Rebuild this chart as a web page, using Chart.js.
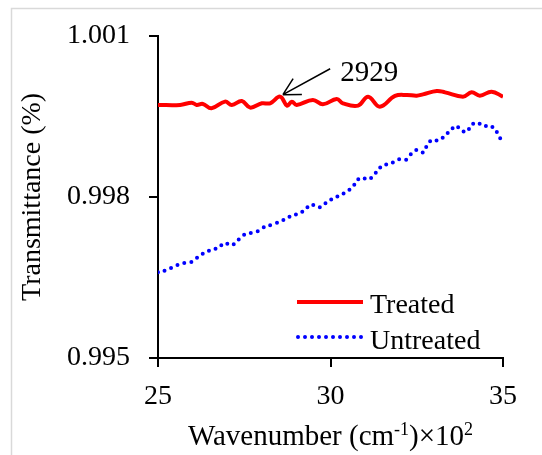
<!DOCTYPE html>
<html>
<head>
<meta charset="utf-8">
<title>Transmittance</title>
<script src="https://cdn.jsdelivr.net/npm/chart.js@4.4.1/dist/chart.umd.min.js"></script>
<style>
  html, body { margin: 0; padding: 0; background: #fff; }
  canvas { display: block; }
  .probe { position: absolute; left: -999px; top: 0; font-family: "Liberation Serif"; font-size: 28px; }
</style>
</head>
<body>
<span class="probe">Transmittance 0.998</span>
<canvas id="ftirChart" width="542" height="455"></canvas>
<script>
// Wavenumber (x10^2 cm-1) and transmittance
const treatedX = [25.00, 25.64, 25.98, 26.12, 26.30, 26.55, 26.94, 27.14, 27.43, 27.67, 28.01, 28.25, 28.54, 28.74, 28.88, 29.02, 29.49, 29.78, 30.18, 30.36, 30.80, 31.09, 31.43, 31.87, 32.21, 32.50, 32.68, 33.08, 33.32, 33.84, 34.09, 34.33, 34.67, 35.00];
const treatedT = [0.999713, 0.999713, 0.999755, 0.999713, 0.999731, 0.999650, 0.999774, 0.999713, 0.999787, 0.999663, 0.999743, 0.999743, 0.999867, 0.999700, 0.999774, 0.999713, 0.999806, 0.999724, 0.999824, 0.999743, 0.999700, 0.999867, 0.999681, 0.999880, 0.999898, 0.999885, 0.999910, 0.999973, 0.999947, 0.999867, 0.999947, 0.999885, 0.999960, 0.999867];

const untreatedX = [25.00, 25.14, 25.35, 25.54, 25.76, 25.98, 26.17, 26.34, 26.56, 26.75, 26.92, 27.14, 27.31, 27.47, 27.67, 27.89, 28.08, 28.30, 28.51, 28.70, 28.89, 29.09, 29.26, 29.43, 29.52, 29.72, 29.89, 30.06, 30.28, 30.47, 30.64, 30.76, 30.88, 31.10, 31.26, 31.39, 31.58, 31.77, 31.97, 32.19, 32.33, 32.50, 32.69, 32.79, 32.93, 33.14, 33.32, 33.48, 33.64, 33.80, 33.97, 34.07, 34.26, 34.43, 34.64, 34.80, 34.91, 35.00];
const untreatedT = [0.996597, 0.996616, 0.996666, 0.996727, 0.996770, 0.996789, 0.996889, 0.996956, 0.997019, 0.997049, 0.997142, 0.997099, 0.997186, 0.997285, 0.997327, 0.997359, 0.997439, 0.997484, 0.997532, 0.997588, 0.997656, 0.997688, 0.997762, 0.997866, 0.997842, 0.997805, 0.997903, 0.997967, 0.998028, 0.998102, 0.998176, 0.998301, 0.998362, 0.998325, 0.998399, 0.998524, 0.998598, 0.998628, 0.998702, 0.998691, 0.998795, 0.998877, 0.998827, 0.998951, 0.999063, 0.999050, 0.999142, 0.999241, 0.999328, 0.999230, 0.999217, 0.999341, 0.999384, 0.999315, 0.999328, 0.999230, 0.999105, 0.998970];

const xTicks = [25, 30, 35];
const yTicks = [0.995, 0.998, 1.001];
const seriesNames = ['Treated', 'Untreated'];
const peakLabel = '2929';

// annotation arrow, in data units
const arrowTip = { x: 28.62, y: 0.999904 };
const arrowTail = { x: 29.99, y: 1.000387 };
const peakLabelAt = { x: 30.28, y: 1.000164 };

const FONT = '"Liberation Serif", Tinos, "Times New Roman", "DejaVu Serif", serif';

const toPoints = (xs, ys) => xs.map((x, i) => ({ x: x, y: ys[i] }));

// draws frame, axis titles, legend and the 2929 arrow
const decorations = {
  id: 'decorations',
  beforeDraw(chart) {
    const ctx = chart.ctx;
    ctx.save();
    ctx.fillStyle = '#fff';
    ctx.fillRect(0, 0, chart.width, chart.height);
    ctx.strokeStyle = '#d9d9d9';
    ctx.lineWidth = 1.5;
    ctx.strokeRect(11.5, 8.5, 600, 600);
    ctx.restore();
  },
  afterDraw(chart) {
    const ctx = chart.ctx;
    const xs = chart.scales.x;
    const ys = chart.scales.y;
    const area = chart.chartArea;
    ctx.save();
    ctx.fillStyle = '#000';

    // y title
    ctx.font = '28px ' + FONT;
    ctx.textAlign = 'center';
    ctx.textBaseline = 'middle';
    ctx.translate(33, (area.top + area.bottom) / 2);
    ctx.rotate(-Math.PI / 2);
    ctx.fillText('Transmittance (%)', 0, 0);
    ctx.setTransform(1, 0, 0, 1, 0, 0);

    // x title with superscripts
    const parts = [
      { t: 'Wavenumber (cm', sup: false },
      { t: '-1', sup: true },
      { t: ')\u00d710', sup: false },
      { t: '2', sup: true }
    ];
    ctx.textAlign = 'left';
    ctx.textBaseline = 'alphabetic';
    let total = 0;
    parts.forEach(p => {
      ctx.font = (p.sup ? '18px ' : '29px ') + FONT;
      p.w = ctx.measureText(p.t).width;
      total += p.w;
    });
    let cx = (area.left + area.right) / 2 - total / 2;
    parts.forEach(p => {
      ctx.font = (p.sup ? '18px ' : '29px ') + FONT;
      ctx.fillText(p.t, cx, p.sup ? 435 : 445);
      cx += p.w;
    });

    // legend
    ctx.font = '28px ' + FONT;
    ctx.lineCap = 'butt';
    ctx.strokeStyle = '#ff0000';
    ctx.lineWidth = 4;
    ctx.beginPath();
    ctx.moveTo(297, 302);
    ctx.lineTo(363, 302);
    ctx.stroke();
    ctx.fillText(seriesNames[0], 370, 313);

    ctx.strokeStyle = '#0000ff';
    ctx.lineWidth = 4;
    ctx.lineCap = 'round';
    ctx.setLineDash([0, 7]);
    ctx.beginPath();
    ctx.moveTo(298, 337);
    ctx.lineTo(364, 337);
    ctx.stroke();
    ctx.setLineDash([]);
    ctx.fillText(seriesNames[1], 370, 349);

    // peak arrow
    const tx = xs.getPixelForValue(arrowTip.x), ty = ys.getPixelForValue(arrowTip.y);
    const sx = xs.getPixelForValue(arrowTail.x), sy = ys.getPixelForValue(arrowTail.y);
    ctx.strokeStyle = '#000';
    ctx.lineWidth = 1.5;
    ctx.lineCap = 'butt';
    ctx.beginPath();
    ctx.moveTo(sx, sy);
    ctx.lineTo(tx, ty);
    const ang = Math.atan2(sy - ty, sx - tx);
    const head = 19;
    [-0.5, 0.5].forEach(d => {
      ctx.moveTo(tx, ty);
      ctx.lineTo(tx + head * Math.cos(ang + d), ty + head * Math.sin(ang + d));
    });
    ctx.stroke();
    ctx.font = '29px ' + FONT;
    ctx.fillText(peakLabel, xs.getPixelForValue(peakLabelAt.x), ys.getPixelForValue(peakLabelAt.y));
    ctx.restore();
  }
};

const axisStyle = {
  border: { display: true, color: '#000', width: 2 },
  grid: { drawOnChartArea: false, drawTicks: true, tickLength: 9, color: '#000', lineWidth: 2 }
};

function drawChart() {
  new Chart(document.getElementById('ftirChart'), {
    type: 'line',
    data: {
      datasets: [
        {
          label: seriesNames[0],
          data: toPoints(treatedX, treatedT),
          borderColor: '#ff0000',
          borderWidth: 4,
          pointRadius: 0,
          tension: 0.4,
          fill: false
        },
        {
          label: seriesNames[1],
          data: toPoints(untreatedX, untreatedT),
          borderColor: '#0000ff',
          borderWidth: 4,
          borderDash: [0, 7],
          borderCapStyle: 'round',
          pointRadius: 0,
          tension: 0.2,
          fill: false
        }
      ]
    },
    options: {
      responsive: false,
      animation: false,
      devicePixelRatio: 1,
      layout: { padding: { top: 34, right: 39, left: 0, bottom: 0 } },
      plugins: {
        legend: { display: false },
        tooltip: { enabled: false }
      },
      scales: {
        x: {
          type: 'linear',
          min: 25,
          max: 35,
          ...axisStyle,
          afterBuildTicks: scale => { scale.ticks = xTicks.map(v => ({ value: v })); },
          afterFit: scale => { scale.height = 97; },
          ticks: {
            padding: 13,
            color: '#000',
            font: { family: FONT, size: 28 },
            maxRotation: 0,
            callback: v => String(v)
          }
        },
        y: {
          type: 'linear',
          min: 0.995,
          max: 1.001,
          ...axisStyle,
          afterBuildTicks: scale => { scale.ticks = yTicks.map(v => ({ value: v })); },
          afterFit: scale => { scale.width = 158; },
          ticks: {
            padding: 19,
            color: '#000',
            font: { family: FONT, size: 28 },
            callback: v => Number(v).toFixed(3)
          }
        }
      }
    },
    plugins: [decorations]
  });
}

// make sure the serif face is ready before drawing on the canvas
Promise.all([
  document.fonts.load('28px "Liberation Serif"'),
  document.fonts.load('18px "Liberation Serif"')
]).catch(() => null).then(() => document.fonts.ready).then(drawChart, drawChart);
</script>
</body>
</html>
